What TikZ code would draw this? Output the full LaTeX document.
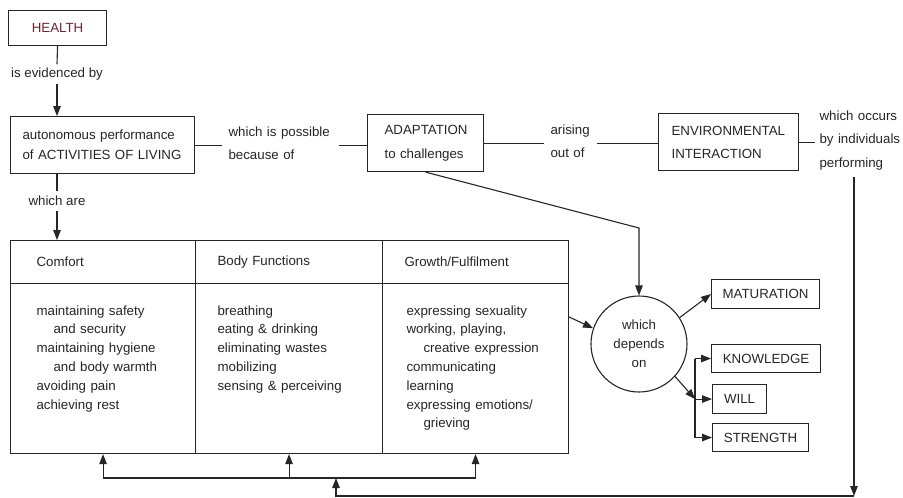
\documentclass[tikz,border=0pt]{standalone}
\usepackage{fontspec}
\setmainfont{Liberation Sans}
\usetikzlibrary{arrows.meta,calc}
\definecolor{ink}{HTML}{262626}
\definecolor{healthred}{HTML}{6A2633}
\hbadness=10000 \hfuzz=20pt
\begin{document}
\begin{tikzpicture}[x=1pt,y=-1pt, line width=1.1pt, color=ink,
  font=\fontsize{13.3}{16}\selectfont,
  arr/.style={-{Triangle[length=10pt,width=7.5pt]}},
  box/.style={draw, rectangle, inner ysep=0pt, anchor=north west},
  lbl/.style={inner xsep=0pt, inner ysep=0pt}]
\path[fill=white] (0,0) rectangle (903,498);
\useasboundingbox (0,0) rectangle (903,498);

% top row
\node[box, minimum width=98pt, minimum height=35pt, text=healthred] (health) at (8,10) {HEALTH};
\node[lbl, inner ysep=3pt] (evid) at (57,74) {is evidenced by};
\node[box, minimum width=184pt, minimum height=57pt, text width=160pt, inner xsep=12pt, align=left,
  font=\fontsize{13.3}{20}\selectfont] (act) at (10,116) {autonomous performance\\of ACTIVITIES OF LIVING};
\node[lbl, anchor=base west, inner xsep=6pt, text width=104pt, align=left,
  font=\fontsize{13.3}{23}\selectfont] (poss) at (222,136) {which is possible\\because of};
\node[box, minimum width=116pt, minimum height=57pt, text width=82pt, inner xsep=17pt, align=left,
  font=\fontsize{13.3}{24}\selectfont] (adapt) at (367,114) {ADAPTATION\\to challenges};
\node[lbl, anchor=base west, inner xsep=6pt, text width=40pt, align=left,
  font=\fontsize{13.3}{23}\selectfont] (arise) at (544,134) {arising\\out of};
\node[box, minimum width=140pt, minimum height=57pt, text width=114pt, inner xsep=13pt, align=left,
  font=\fontsize{13.3}{23}\selectfont] (env) at (658,113) {\mbox{ENVIRONMENTAL}\\\mbox{INTERACTION}};
\node[lbl, anchor=base west, inner xsep=4pt, text width=84pt, align=left,
  font=\fontsize{13.3}{23.5}\selectfont] (occ) at (815,120) {which occurs\\by individuals\\performing};
\node[lbl, inner ysep=5pt] (are) at (57,201) {which are};

\draw (health.south) -- (evid.north);
\draw[arr] (evid.south) -- (act.north -| evid.south);
\draw (act.east) -- (act.east -| poss.west);
\draw (poss.east |- act.east) -- (act.east -| adapt.west);
\draw (adapt.east) -- (adapt.east -| arise.west);
\draw (arise.east |- adapt.east) -- (adapt.east -| env.west);
\draw (env.east) -- (env.east -| occ.west);
\draw (act.south -| are.north) -- (are.north);

% table
\node[box, minimum width=185pt, minimum height=43pt, text width=133pt, inner xsep=26pt, align=left] (h1) at (10,240) {Comfort};
\node[box, minimum width=187pt, minimum height=43pt, text width=143pt, inner xsep=22pt, align=left] (h2) at (195,240) {Body Functions};
\node[box, minimum width=186pt, minimum height=43pt, text width=142pt, inner xsep=22pt, align=left] (h3) at (382,240) {Growth/Fulfilment};
\node[box, minimum width=185pt, minimum height=170pt] (b1) at (10,283) {};
\node[box, minimum width=187pt, minimum height=170pt] (b2) at (195,283) {};
\node[box, minimum width=186pt, minimum height=170pt] (b3) at (382,283) {};
\node[lbl, anchor=base west, text width=150pt, align=left, font=\fontsize{13.3}{18.8}\selectfont] (t1) at (36,315)
  {maintaining safety\\\hspace*{17pt}and security\\maintaining hygiene\\\hspace*{17pt}and body warmth\\avoiding pain\\achieving rest};
\node[lbl, anchor=base west, text width=150pt, align=left, font=\fontsize{13.3}{18.8}\selectfont] (t2) at (217,315)
  {breathing\\eating \& drinking\\eliminating wastes\\mobilizing\\sensing \& perceiving};
\node[lbl, anchor=base west, text width=155pt, align=left, font=\fontsize{13.3}{18.8}\selectfont] (t3) at (406,315)
  {expressing sexuality\\working, playing,\\\hspace*{17pt}creative expression\\communicating\\learning\\expressing emotions/\\\hspace*{17pt}grieving};

\draw[arr] (are.south) -- (are.south |- h1.north);

% circle and outcomes
\node[circle, draw, minimum size=96pt, inner sep=0pt, align=center,
  font=\fontsize{13.3}{19}\selectfont] (dep) at (639,344) {which\\depends\\on};
\node[box, minimum width=108pt, minimum height=29pt] (mat) at (711,279) {MATURATION};
\node[box, minimum width=109pt, minimum height=28pt] (know) at (711,344) {KNOWLEDGE};
\node[box, minimum width=54pt, minimum height=29pt] (will) at (712,384) {WILL};
\node[box, minimum width=96pt, minimum height=28pt] (str) at (712,423) {STRENGTH};

\coordinate (bend) at (639,228);
\draw[arr] (adapt.south) -- (bend) -- (dep.north);
\draw[arr] ([yshift=-34pt]b3.north east) -- (dep.161);
\draw[arr] (dep.33) -- (mat.west);
\coordinate (br) at (695,398);
\draw[arr] (dep.-42) -- (br |- will.west);
\draw (br |- know.west) -- (br |- str.west);
\draw[arr] (br |- know.west) -- (know.west);
\draw[arr] (br |- will.west) -- (will.west);
\draw[arr] (br |- str.west) -- (str.west);

% feedback loop
\coordinate (fb1) at (854,177);
\coordinate (fb2) at (854,496);
\coordinate (fb3) at (336,496);
\coordinate (fb4) at (336,478);
\draw[arr] (fb1) -- (fb2);
\draw[arr] (fb2) -- (fb3) -- (fb4);
\draw (b1.south |- fb4) -- (b3.south |- fb4);
\draw[arr] (b1.south |- fb4) -- (b1.south);
\draw[arr] (b2.south |- fb4) -- (b2.south);
\draw[arr] (b3.south |- fb4) -- (b3.south);
\end{tikzpicture}
\end{document}
